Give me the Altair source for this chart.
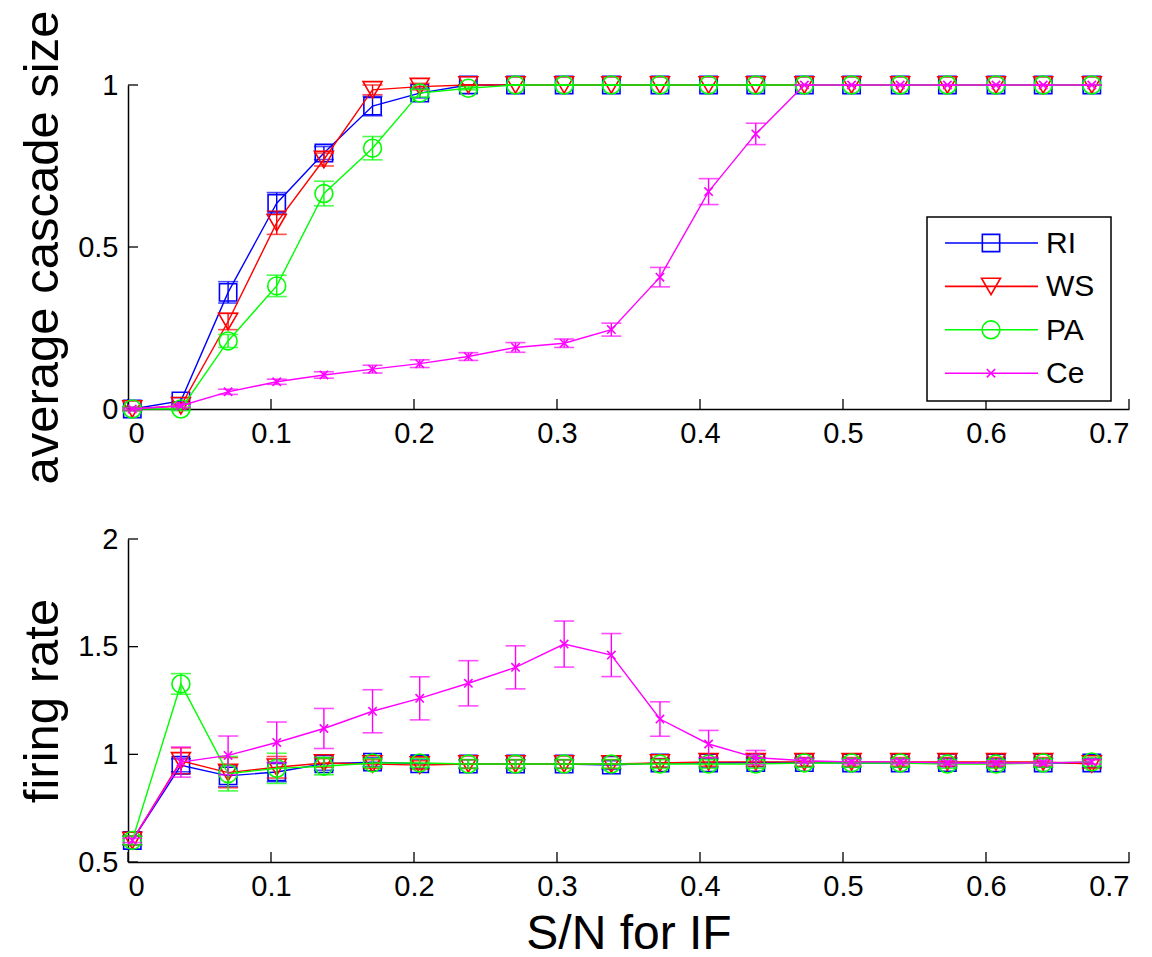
import altair as alt
import pandas as pd

# ---------------- data ----------------
series = ["RI", "WS", "PA", "Ce"]
x_vals = [0.003, 0.037, 0.070, 0.104, 0.137, 0.171, 0.204, 0.238, 0.271, 0.305, 0.338,
          0.372, 0.406, 0.439, 0.473, 0.506, 0.540, 0.573, 0.607, 0.640, 0.674]

# top panel: average cascade size
cas_RI = [0.0, 0.025, 0.36, 0.635, 0.79, 0.935, 0.975, 1, 1, 1, 1, 1, 1, 1, 1, 1, 1, 1, 1, 1, 1]
cas_RI_err = [0.005, 0.01, 0.033, 0.033, 0.02, 0.03, 0.015, 0, 0, 0, 0, 0, 0, 0, 0, 0, 0, 0, 0, 0, 0]
cas_WS = [0.0, 0.01, 0.27, 0.575, 0.77, 0.985, 0.995, 1, 1, 1, 1, 1, 1, 1, 1, 1, 1, 1, 1, 1, 1]
cas_WS_err = [0.005, 0.01, 0.025, 0.036, 0.02, 0.015, 0.01, 0, 0, 0, 0, 0, 0, 0, 0, 0, 0, 0, 0, 0, 0]
cas_PA = [0.0, 0.0, 0.21, 0.38, 0.665, 0.805, 0.975, 0.99, 1, 1, 1, 1, 1, 1, 1, 1, 1, 1, 1, 1, 1]
cas_PA_err = [0.005, 0.005, 0.02, 0.033, 0.038, 0.036, 0.012, 0.005, 0, 0, 0, 0, 0, 0, 0, 0, 0, 0, 0, 0, 0]
cas_Ce = [0.0, 0.01, 0.053, 0.084, 0.105, 0.123, 0.14, 0.162, 0.19, 0.203, 0.245, 0.407, 0.671,
          0.849, 1, 1, 1, 1, 1, 1, 1]
cas_Ce_err = [0.003, 0.005, 0.008, 0.008, 0.01, 0.012, 0.012, 0.012, 0.015, 0.013, 0.02, 0.03,
              0.04, 0.033, 0, 0, 0, 0, 0, 0, 0]

# bottom panel: firing rate
fr_RI = [0.6, 0.949, 0.90, 0.918, 0.956, 0.964, 0.956, 0.955, 0.955, 0.955, 0.95, 0.96, 0.96,
         0.962, 0.962, 0.96, 0.96, 0.962, 0.96, 0.96, 0.96]
fr_RI_err = [0.02, 0.03, 0.05, 0.045, 0.03, 0.02, 0.02, 0.02, 0.02, 0.02, 0.02, 0.02, 0.02,
             0.02, 0.02, 0.02, 0.02, 0.02, 0.02, 0.02, 0.02]
fr_WS = [0.6, 0.97, 0.915, 0.94, 0.96, 0.955, 0.95, 0.955, 0.955, 0.955, 0.955, 0.96, 0.965,
         0.965, 0.965, 0.965, 0.965, 0.965, 0.965, 0.965, 0.955]
fr_WS_err = [0.02, 0.06, 0.07, 0.05, 0.02, 0.02, 0.02, 0.02, 0.02, 0.02, 0.02, 0.02, 0.02,
             0.02, 0.02, 0.02, 0.02, 0.02, 0.02, 0.02, 0.02]
fr_PA = [0.6, 1.327, 0.91, 0.935, 0.945, 0.96, 0.96, 0.955, 0.955, 0.955, 0.955, 0.955, 0.955,
         0.955, 0.96, 0.96, 0.96, 0.955, 0.955, 0.96, 0.965]
fr_PA_err = [0.02, 0.048, 0.08, 0.07, 0.04, 0.02, 0.02, 0.02, 0.02, 0.02, 0.02, 0.02, 0.02,
             0.02, 0.02, 0.02, 0.02, 0.02, 0.02, 0.02, 0.02]
fr_Ce = [0.6, 0.964, 0.995, 1.055, 1.12, 1.2, 1.26, 1.33, 1.404, 1.512, 1.461, 1.164, 1.048,
         0.985, 0.97, 0.965, 0.965, 0.96, 0.96, 0.96, 0.965]
fr_Ce_err = [0.01, 0.07, 0.09, 0.095, 0.093, 0.1, 0.1, 0.105, 0.1, 0.107, 0.1, 0.08, 0.063,
             0.033, 0.01, 0.01, 0.01, 0.01, 0.01, 0.01, 0.01]

x_ticks = [0, 0.1, 0.2, 0.3, 0.4, 0.5, 0.6, 0.7]
top_y_ticks = [0, 0.5, 1]
bot_y_ticks = [0.5, 1, 1.5, 2]

# ---------------- styles ----------------
FONT = "Liberation Sans, Arial, Helvetica, sans-serif"
colors = {"RI": "#0000ff", "WS": "#ff0000", "PA": "#00ff00", "Ce": "#ff00ff"}
shapes = {"RI": "square", "WS": "triangle-down", "PA": "circle",
          "Ce": "M-1,-1L1,1M-1,1L1,-1"}
sizes = {"RI": 300, "WS": 360, "PA": 320, "Ce": 70}

W = 1001
H_TOP = 324
H_BOT = 323


def make_df(vals, errs):
    rows = []
    for s in series:
        for xv, v, e in zip(x_vals, vals[s], errs[s]):
            rows.append({"series": s, "x": xv, "y": v, "lo": v - e, "hi": v + e})
    return pd.DataFrame(rows)


top_df = make_df({"RI": cas_RI, "WS": cas_WS, "PA": cas_PA, "Ce": cas_Ce},
                 {"RI": cas_RI_err, "WS": cas_WS_err, "PA": cas_PA_err, "Ce": cas_Ce_err})
bot_df = make_df({"RI": fr_RI, "WS": fr_WS, "PA": fr_PA, "Ce": fr_Ce},
                 {"RI": fr_RI_err, "WS": fr_WS_err, "PA": fr_PA_err, "Ce": fr_Ce_err})


def panel(df, ydomain, yticks, ytitle, height, show_xtitle, legend=False):
    xscale = alt.Scale(domain=[0, 0.7], nice=False, zero=False)
    yscale = alt.Scale(domain=ydomain, nice=False, zero=False)
    xaxis = alt.Axis(values=x_ticks, format="~g", title="S/N for IF" if show_xtitle else None,
                     titlePadding=9, titleFontSize=48)
    yaxis = alt.Axis(values=yticks, format="~g", title=ytitle, titlePadding=10)
    base = alt.Chart(df)
    layers = []
    # axis layer (invisible) carrying the axes
    layers.append(
        base.mark_point(opacity=0).encode(
            x=alt.X("x:Q", scale=xscale, axis=xaxis),
            y=alt.Y("y:Q", scale=yscale, axis=yaxis),
        )
    )
    # inward ticks
    xt = pd.DataFrame({"t": x_ticks})
    yt = pd.DataFrame({"t": yticks})
    layers.append(
        alt.Chart(xt).mark_rule(color="black", strokeWidth=1.3).encode(
            x=alt.X("t:Q", scale=xscale), y=alt.value(height), y2=alt.value(height - 10)
        )
    )
    layers.append(
        alt.Chart(yt).mark_rule(color="black", strokeWidth=1.3).encode(
            y=alt.Y("t:Q", scale=yscale), x=alt.value(0), x2=alt.value(10)
        )
    )
    for s in series:
        c = colors[s]
        sb = base.transform_filter(alt.datum.series == s)
        layers.append(
            sb.mark_line(color=c, strokeWidth=1.4).encode(
                x=alt.X("x:Q", scale=xscale), y=alt.Y("y:Q", scale=yscale)
            )
        )
        layers.append(
            sb.mark_rule(color=c, strokeWidth=1.4).encode(
                x=alt.X("x:Q", scale=xscale), y=alt.Y("lo:Q", scale=yscale), y2="hi:Q"
            )
        )
        for f in ["lo", "hi"]:
            layers.append(
                sb.mark_tick(color=c, orient="horizontal", size=20, thickness=1.6).encode(
                    x=alt.X("x:Q", scale=xscale), y=alt.Y(f + ":Q", scale=yscale)
                )
            )
        layers.append(
            sb.mark_point(color=c, shape=shapes[s], size=sizes[s], filled=False,
                          strokeWidth=1.6, opacity=1).encode(
                x=alt.X("x:Q", scale=xscale), y=alt.Y("y:Q", scale=yscale)
            )
        )
    if legend:
        box_x0, box_x1, box_y0, box_y1 = 799, 983, 132, 316
        ldf = pd.DataFrame({"series": series})
        layers.append(
            alt.Chart(ldf).mark_rect(fill="white", stroke="black", strokeWidth=1.5).encode(
                x=alt.value(box_x0), x2=alt.value(box_x1), y=alt.value(box_y0), y2=alt.value(box_y1)
            ).transform_filter(alt.datum.series == "RI")
        )
        for i, s in enumerate(series):
            ry = 158 + i * 43.4
            lb = alt.Chart(ldf).transform_filter(alt.datum.series == s)
            layers.append(
                lb.mark_rule(color=colors[s], strokeWidth=1.6).encode(
                    x=alt.value(817), x2=alt.value(910), y=alt.value(ry)
                )
            )
            layers.append(
                lb.mark_point(color=colors[s], shape=shapes[s], size=sizes[s], filled=False,
                              strokeWidth=1.6, opacity=1).encode(
                    x=alt.value(863), y=alt.value(ry)
                )
            )
            layers.append(
                lb.mark_text(align="left", baseline="middle", font=FONT, fontSize=30,
                             color="black").encode(
                    x=alt.value(918), y=alt.value(ry + 1), text="series:N"
                )
            )
    return alt.layer(*layers).properties(width=W, height=height)


top = panel(top_df, [0, 1], top_y_ticks, "average cascade size", H_TOP, False, legend=True)
bot = panel(bot_df, [0.5, 2], bot_y_ticks, "firing rate", H_BOT, True)

chart = alt.vconcat(top, bot, spacing=41).properties(
    padding={"left": 18, "top": 10, "right": 5, "bottom": 0},
    background="white",
).configure_view(stroke=None).configure_axis(
    grid=False,
    ticks=False,
    domain=True,
    domainColor="black",
    domainWidth=1.5,
    labelFont=FONT,
    labelFontSize=29,
    labelColor="black",
    labelPadding=10,
    titleFont=FONT,
    titleFontSize=49,
    titleFontWeight="normal",
    titleColor="black",
)

chart.save("out.html", embed_options={"renderer": "svg", "actions": False})
